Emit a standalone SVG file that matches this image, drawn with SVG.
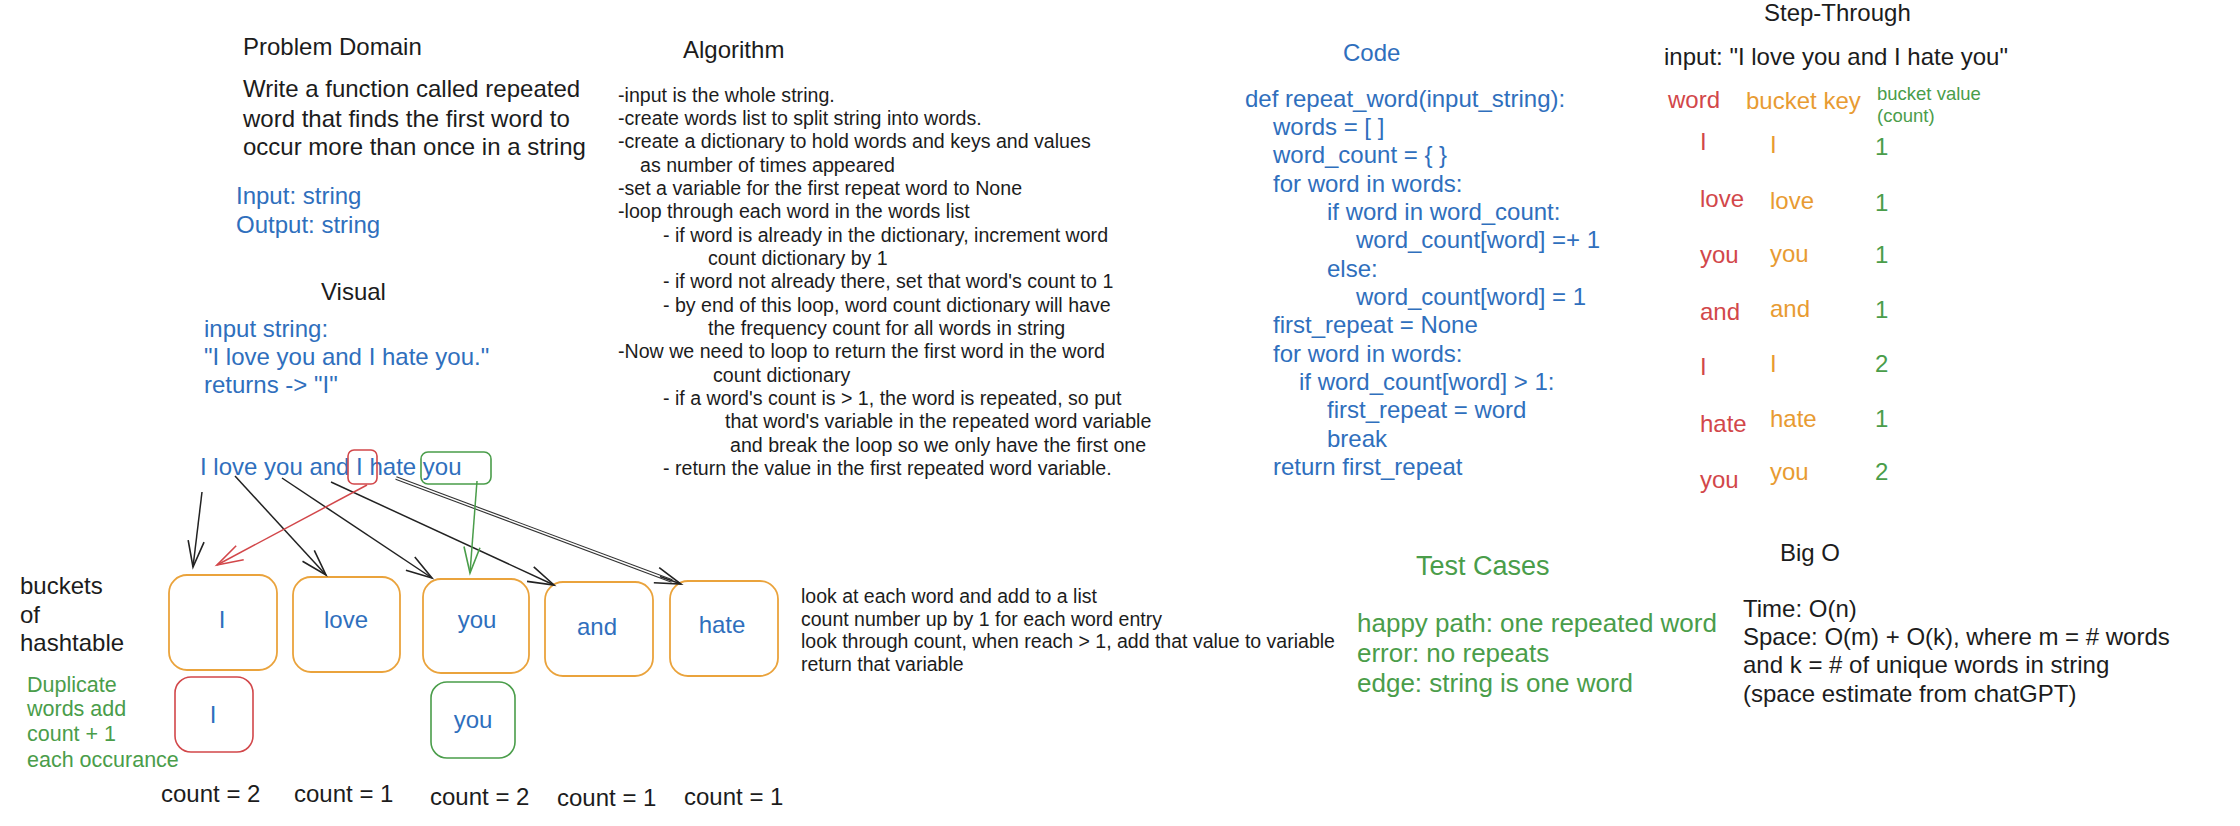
<svg xmlns="http://www.w3.org/2000/svg" width="2240" height="826" viewBox="0 0 2240 826">
<style>
text{font-family:"Liberation Sans",Arial,Helvetica,sans-serif;font-size:24px;fill:#1c1c1c}
.blue{fill:#2f6fbd}
.red{fill:#d2474a}
.orange{fill:#e89b32}
.green{fill:#4a9d4a}
.alg{font-size:19.6px}
.note{font-size:19.5px}
.dup{font-size:21.5px}
.tc{font-size:26px}
.bv{font-size:18.5px}
.mid{text-anchor:middle}
.obox{fill:none;stroke:#eaa33c;stroke-width:1.8}
.rbox{fill:none;stroke:#d2474a;stroke-width:1.6}
.gbox{fill:none;stroke:#4a9d4a;stroke-width:1.6}
.conn{fill:none;stroke-width:1.5}
</style>
<defs>
<marker id="ah-black" markerUnits="userSpaceOnUse" markerWidth="30" markerHeight="20" refX="27" refY="9" orient="auto"><path d="M1,1 L27,9 L1,17" fill="none" stroke="#222" stroke-width="1.6"/></marker>
<marker id="ah-red" markerUnits="userSpaceOnUse" markerWidth="30" markerHeight="20" refX="27" refY="9" orient="auto"><path d="M1,1 L27,9 L1,17" fill="none" stroke="#d2474a" stroke-width="1.6"/></marker>
<marker id="ah-green" markerUnits="userSpaceOnUse" markerWidth="30" markerHeight="20" refX="27" refY="9" orient="auto"><path d="M1,1 L27,9 L1,17" fill="none" stroke="#4a9d4a" stroke-width="1.6"/></marker>
</defs>
<rect width="2240" height="826" fill="#ffffff"/>

<g id="problem-domain">
<text x="243" y="55">Problem Domain</text>
<text x="243" y="97">Write a function called repeated</text>
<text x="243" y="127">word that finds the first word to</text>
<text x="243" y="155">occur more than once in a string</text>
</g>
<g id="io">
<text class="blue" x="236" y="204">Input: string</text>
<text class="blue" x="236" y="233">Output: string</text>
</g>
<g id="visual">
<text x="321" y="300">Visual</text>
<text class="blue" x="204" y="337">input string:</text>
<text class="blue" x="204" y="365">"I love you and I hate you."</text>
<text class="blue" x="204" y="393">returns -&gt; "I"</text>
</g>

<g id="algorithm">
<text x="683" y="58">Algorithm</text>
<text class="alg" x="618" y="102">-input is the whole string.</text>
<text class="alg" x="618" y="125">-create words list to split string into words.</text>
<text class="alg" x="618" y="148">-create a dictionary to hold words and keys and values</text>
<text class="alg" x="640" y="172">as number of times appeared</text>
<text class="alg" x="618" y="195">-set a variable for the first repeat word to None</text>
<text class="alg" x="618" y="218">-loop through each word in the words list</text>
<text class="alg" x="663" y="242">- if word is already in the dictionary, increment word</text>
<text class="alg" x="708" y="265">count dictionary by 1</text>
<text class="alg" x="663" y="288">- if word not already there, set that word's count to 1</text>
<text class="alg" x="663" y="312">- by end of this loop, word count dictionary will have</text>
<text class="alg" x="708" y="335">the frequency count for all words in string</text>
<text class="alg" x="618" y="358">-Now we need to loop to return the first word in the word</text>
<text class="alg" x="713" y="382">count dictionary</text>
<text class="alg" x="663" y="405">- if a word's count is &gt; 1, the word is repeated, so put</text>
<text class="alg" x="725" y="428">that word's variable in the repeated word variable</text>
<text class="alg" x="730" y="452">and break the loop so we only have the first one</text>
<text class="alg" x="663" y="475">- return the value in the first repeated word variable.</text>
</g>

<g id="code">
<text class="blue" x="1343" y="61">Code</text>
<text class="blue" x="1245" y="107">def repeat_word(input_string):</text>
<text class="blue" x="1273" y="135">words = [ ]</text>
<text class="blue" x="1273" y="163">word_count = { }</text>
<text class="blue" x="1273" y="192">for word in words:</text>
<text class="blue" x="1327" y="220">if word in word_count:</text>
<text class="blue" x="1356" y="248">word_count[word] =+ 1</text>
<text class="blue" x="1327" y="277">else:</text>
<text class="blue" x="1356" y="305">word_count[word] = 1</text>
<text class="blue" x="1273" y="333">first_repeat = None</text>
<text class="blue" x="1273" y="362">for word in words:</text>
<text class="blue" x="1299" y="390">if word_count[word] &gt; 1:</text>
<text class="blue" x="1327" y="418">first_repeat = word</text>
<text class="blue" x="1327" y="447">break</text>
<text class="blue" x="1273" y="475">return first_repeat</text>
</g>

<g id="step-through">
<text x="1764" y="21">Step-Through</text>
<text x="1664" y="65">input: "I love you and I hate you"</text>
<text class="red" x="1668" y="108">word</text>
<text class="orange" x="1746" y="109">bucket key</text>
<text class="green bv" x="1877" y="100">bucket value</text>
<text class="green bv" x="1877" y="122">(count)</text>
<text class="red" x="1700" y="150">I</text><text class="orange" x="1770" y="153">I</text><text class="green" x="1875" y="155">1</text>
<text class="red" x="1700" y="207">love</text><text class="orange" x="1770" y="209">love</text><text class="green" x="1875" y="211">1</text>
<text class="red" x="1700" y="263">you</text><text class="orange" x="1770" y="262">you</text><text class="green" x="1875" y="263">1</text>
<text class="red" x="1700" y="320">and</text><text class="orange" x="1770" y="317">and</text><text class="green" x="1875" y="318">1</text>
<text class="red" x="1700" y="375">I</text><text class="orange" x="1770" y="372">I</text><text class="green" x="1875" y="372">2</text>
<text class="red" x="1700" y="432">hate</text><text class="orange" x="1770" y="427">hate</text><text class="green" x="1875" y="427">1</text>
<text class="red" x="1700" y="488">you</text><text class="orange" x="1770" y="480">you</text><text class="green" x="1875" y="480">2</text>
</g>

<g id="input-sentence">
<text class="blue" x="200" y="475">I love you and I hate you</text>
<rect class="rbox" x="348" y="450" width="29" height="34" rx="6"/>
<rect class="gbox" x="421" y="452" width="70" height="32" rx="7"/>
</g>

<g id="buckets-label">
<text x="20" y="594">buckets</text>
<text x="20" y="623">of</text>
<text x="20" y="651">hashtable</text>
</g>
<g id="duplicate-note">
<text class="green dup" x="27" y="692">Duplicate</text>
<text class="green dup" x="27" y="716">words add</text>
<text class="green dup" x="27" y="741">count + 1</text>
<text class="green dup" x="27" y="767">each occurance</text>
</g>

<g id="bucket-I"><rect class="obox" x="169" y="575" width="108" height="95" rx="18"/><text class="blue mid" x="222" y="628">I</text></g>
<g id="bucket-love"><rect class="obox" x="293" y="577" width="107" height="95" rx="18"/><text class="blue mid" x="346" y="628">love</text></g>
<g id="bucket-you"><rect class="obox" x="423" y="579" width="106" height="94" rx="18"/><text class="blue mid" x="477" y="628">you</text></g>
<g id="bucket-and"><rect class="obox" x="545" y="582" width="108" height="94" rx="18"/><text class="blue mid" x="597" y="635">and</text></g>
<g id="bucket-hate"><rect class="obox" x="670" y="581" width="108" height="95" rx="18"/><text class="blue mid" x="722" y="633">hate</text></g>
<g id="dup-I"><rect class="rbox" x="175" y="677" width="78" height="75" rx="16"/><text class="blue mid" x="213" y="723">I</text></g>
<g id="dup-you"><rect class="gbox" x="431" y="682" width="84" height="76" rx="16"/><text class="blue mid" x="473" y="728">you</text></g>

<g id="counts">
<text x="161" y="802">count = 2</text>
<text x="294" y="802">count = 1</text>
<text x="430" y="805">count = 2</text>
<text x="557" y="806">count = 1</text>
<text x="684" y="805">count = 1</text>
</g>

<g id="side-notes">
<text class="note" x="801" y="603">look at each word and add to a list</text>
<text class="note" x="801" y="626">count number up by 1 for each word entry</text>
<text class="note" x="801" y="648">look through count, when reach &gt; 1, add that value to variable</text>
<text class="note" x="801" y="671">return that variable</text>
</g>

<g id="test-cases">
<text class="green" style="font-size:27px" x="1416" y="575">Test Cases</text>
<text class="green tc" x="1357" y="632">happy path: one repeated word</text>
<text class="green tc" x="1357" y="662">error: no repeats</text>
<text class="green tc" x="1357" y="692">edge: string is one word</text>
</g>

<g id="big-o">
<text x="1780" y="561">Big O</text>
<text x="1743" y="617">Time: O(n)</text>
<text x="1743" y="645">Space: O(m) + O(k), where m = # words</text>
<text x="1743" y="673">and k = # of unique words in string</text>
<text x="1743" y="702">(space estimate from chatGPT)</text>
</g>

<g id="connectors">
<line class="conn" x1="202" y1="492" x2="193" y2="567" stroke="#222" marker-end="url(#ah-black)"/>
<line class="conn" x1="235" y1="476" x2="326" y2="575" stroke="#222" marker-end="url(#ah-black)"/>
<line class="conn" x1="282" y1="478" x2="432" y2="578" stroke="#222" marker-end="url(#ah-black)"/>
<line class="conn" x1="331" y1="482" x2="554" y2="585" stroke="#222" marker-end="url(#ah-black)"/>
<line x1="396" y1="478" x2="672" y2="581" stroke="#333" stroke-width="3.6"/>
<line x1="396" y1="478" x2="672" y2="581" stroke="#fff" stroke-width="1.4"/>
<line class="conn" x1="660" y1="576.5" x2="681" y2="584" stroke="#222" stroke-width="0.1" marker-end="url(#ah-black)"/>
<line class="conn" x1="367" y1="485" x2="217" y2="565" stroke="#d2474a" marker-end="url(#ah-red)"/>
<line class="conn" x1="477" y1="481" x2="470" y2="573" stroke="#4a9d4a" marker-end="url(#ah-green)"/>
</g>
</svg>
